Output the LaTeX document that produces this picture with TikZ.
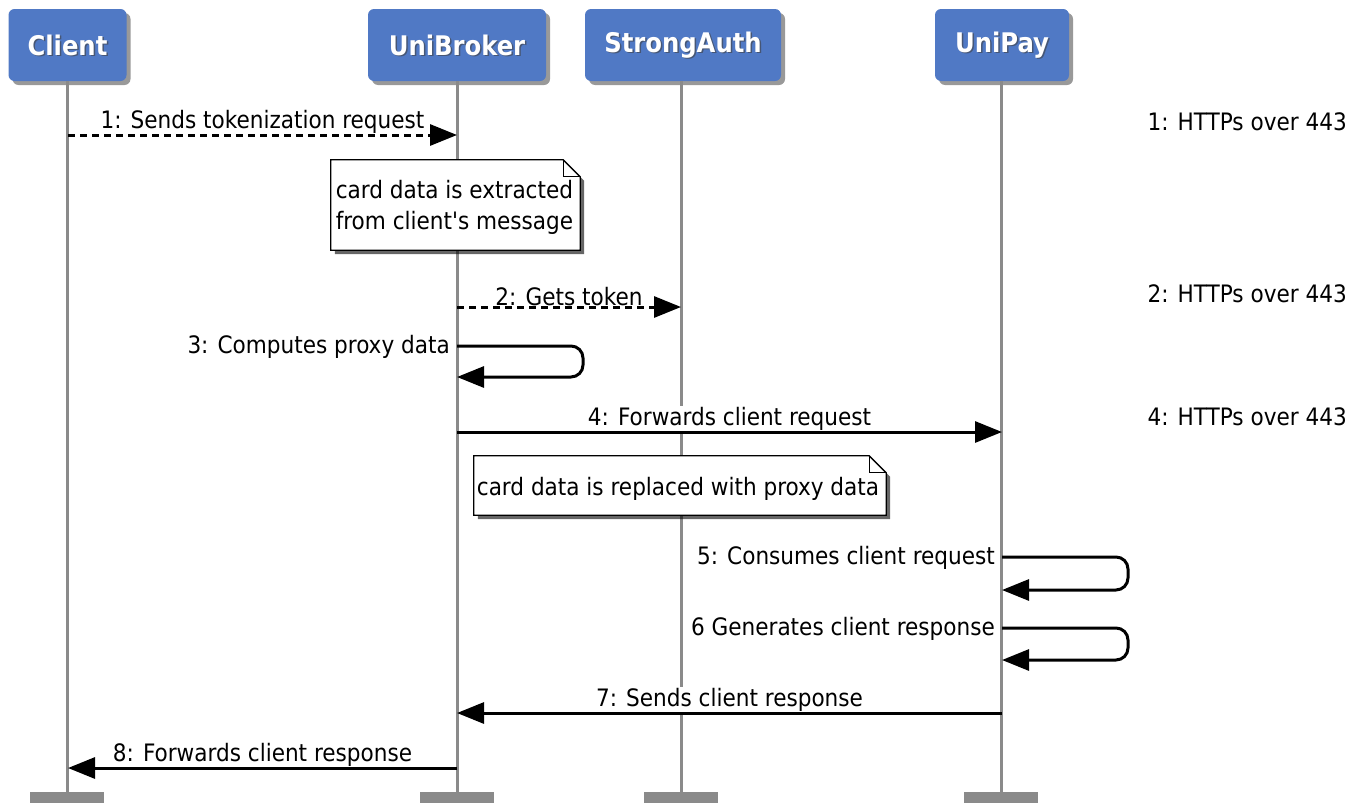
\documentclass[tikz,border=0pt]{standalone}
\usepackage{fontspec}
\setmainfont{DejaVu Sans Condensed}
\usetikzlibrary{arrows.meta,shadows}
\definecolor{headblue}{HTML}{5079C5}
\definecolor{lifegray}{HTML}{8A8A8A}

\tikzset{
  actor/.style={fill=headblue, rounded corners=6pt, minimum height=72pt,
    inner sep=0pt,
    drop shadow={shadow xshift=4pt, shadow yshift=-4pt, opacity=0.4, fill=black}},
  hdtext/.style={text=white, inner sep=0pt, font=\bfseries\fontsize{27}{32}\selectfont},
  hdshade/.style={hdtext, text=black!75, opacity=0.6},
  lifeline/.style={draw=lifegray, line width=3pt},
  footbar/.style={fill=lifegray, draw=none, minimum width=74pt, minimum height=11pt, inner sep=0pt},
  msg/.style={line width=3pt, -{Triangle[length=27pt,width=21pt]}},
  async/.style={msg, dash pattern=on 7pt off 5pt},
  lbl/.style={fill=white, inner sep=1pt, behind path, font=\fontsize{24}{28}\selectfont},
  notebox/.style={fill=white, draw=black, line width=1.3pt,
    drop shadow={shadow xshift=4pt, shadow yshift=-4pt, opacity=0.6, fill=black}},
  proto/.style={font=\fontsize{24}{28}\selectfont, anchor=east, inner sep=0pt},
}

\begin{document}
\begin{tikzpicture}[x=1pt,y=-1pt]
\useasboundingbox (0,0) rectangle (1364,803);

% participants
\node[actor, minimum width=118pt] (client) at (67.5,45) {};
\node[actor, minimum width=178pt] (broker) at (457,45) {};
\node[actor, minimum width=196pt] (auth)   at (683,45) {};
\node[actor, minimum width=134pt] (pay)    at (1002,45) {};
\foreach \p/\t in {client/Client, broker/UniBroker, auth/StrongAuth, pay/UniPay}{
  \node[hdshade] (\p-s) at ([shift={(1.5pt,-1.5pt)}]\p.center) {\t};
  \node[hdtext]  (\p-t) at (\p.center) {\t};
}

% lifeline ends
\node[footbar] (clientE) at (67,797.5) {};
\node[footbar] (brokerE) at (457,797.5) {};
\node[footbar] (authE)   at (681,797.5) {};
\node[footbar] (payE)    at (1001,797.5) {};

\draw[lifeline] (client.south -| clientE) -- (clientE.north);
\draw[lifeline] (broker.south -| brokerE) -- (brokerE.north);
\draw[lifeline] (auth.south -| authE) -- (authE.north);
\draw[lifeline] (pay.south -| payE) -- (payE.north);

% anchor points on the lifelines
\coordinate (c1) at (68,135);   \coordinate (b1) at (457,135);
\coordinate (b2) at (457,307);  \coordinate (a2) at (681,307);
\coordinate (b3) at (457,346);  \coordinate (b3r) at (457,377);
\coordinate (b4) at (457,432);  \coordinate (p4) at (1002,432);
\coordinate (p5) at (1002,557); \coordinate (p5r) at (1002,590);
\coordinate (p6) at (1002,628); \coordinate (p6r) at (1002,660);
\coordinate (p7) at (1002,713); \coordinate (b7) at (457,713);
\coordinate (b8) at (457,768);  \coordinate (c8) at (68,768);

% messages
\draw[async] (c1) -- node[lbl, above=-1pt] {1: Sends tokenization request} (b1);
\draw[async] (b2) -- node[lbl, above=-1pt] {2: Gets token} (a2);
\node[lbl, anchor=east] (m3) at ([xshift=-6pt,yshift=-1pt]b3) {3: Computes proxy data};
\draw[msg, rounded corners=12pt] (b3) -- ++(126,0) |- (b3r);
\draw[msg] (b4) -- node[lbl, above=-1pt] {4: Forwards client request} (p4);
\node[lbl, anchor=east] (m5) at ([xshift=-6pt,yshift=-1pt]p5) {5: Consumes client request};
\draw[msg, rounded corners=12pt] (p5) -- ++(126,0) |- (p5r);
\node[lbl, anchor=east] (m6) at ([xshift=-6pt,yshift=-1pt]p6) {6 Generates client response};
\draw[msg, rounded corners=12pt] (p6) -- ++(126,0) |- (p6r);
\draw[msg] (p7) -- node[lbl, above=-1pt] {7: Sends client response} (b7);
\draw[msg] (b8) -- node[lbl, above=-1pt] {8: Forwards client response} (c8);

% notes
\node[minimum width=249pt, minimum height=90pt, inner sep=0pt] (n1) at (455.5,205) {};
\draw[notebox] (n1.north west) -- ([xshift=-17pt]n1.north east)
  -- ([yshift=-17pt]n1.north east) -- (n1.south east) -- (n1.south west) -- cycle;
\draw[line width=1.3pt] ([xshift=-17pt]n1.north east) |- ([yshift=-17pt]n1.north east);
\node[align=left, font=\fontsize{24}{31}\selectfont, inner sep=0pt] (n1t) at ([xshift=-1pt,yshift=-2pt]n1.center)
  {card data is extracted\\from client\textquotesingle s message};

\node[minimum width=412pt, minimum height=59pt, inner sep=0pt] (n2) at (680,485.5) {};
\draw[notebox] (n2.north west) -- ([xshift=-17pt]n2.north east)
  -- ([yshift=-17pt]n2.north east) -- (n2.south east) -- (n2.south west) -- cycle;
\draw[line width=1.3pt] ([xshift=-17pt]n2.north east) |- ([yshift=-17pt]n2.north east);
\node[font=\fontsize{24}{28}\selectfont, inner sep=0pt] (n2t) at ([xshift=-2pt,yshift=-3pt]n2.center)
  {card data is replaced with proxy data};

% transport notes
\node[proto] (t1) at (1347,122) {1: HTTPs over 443};
\node[proto] (t2) at (1347,294) {2: HTTPs over 443};
\node[proto] (t4) at (1347,417) {4: HTTPs over 443};
\end{tikzpicture}
\end{document}
